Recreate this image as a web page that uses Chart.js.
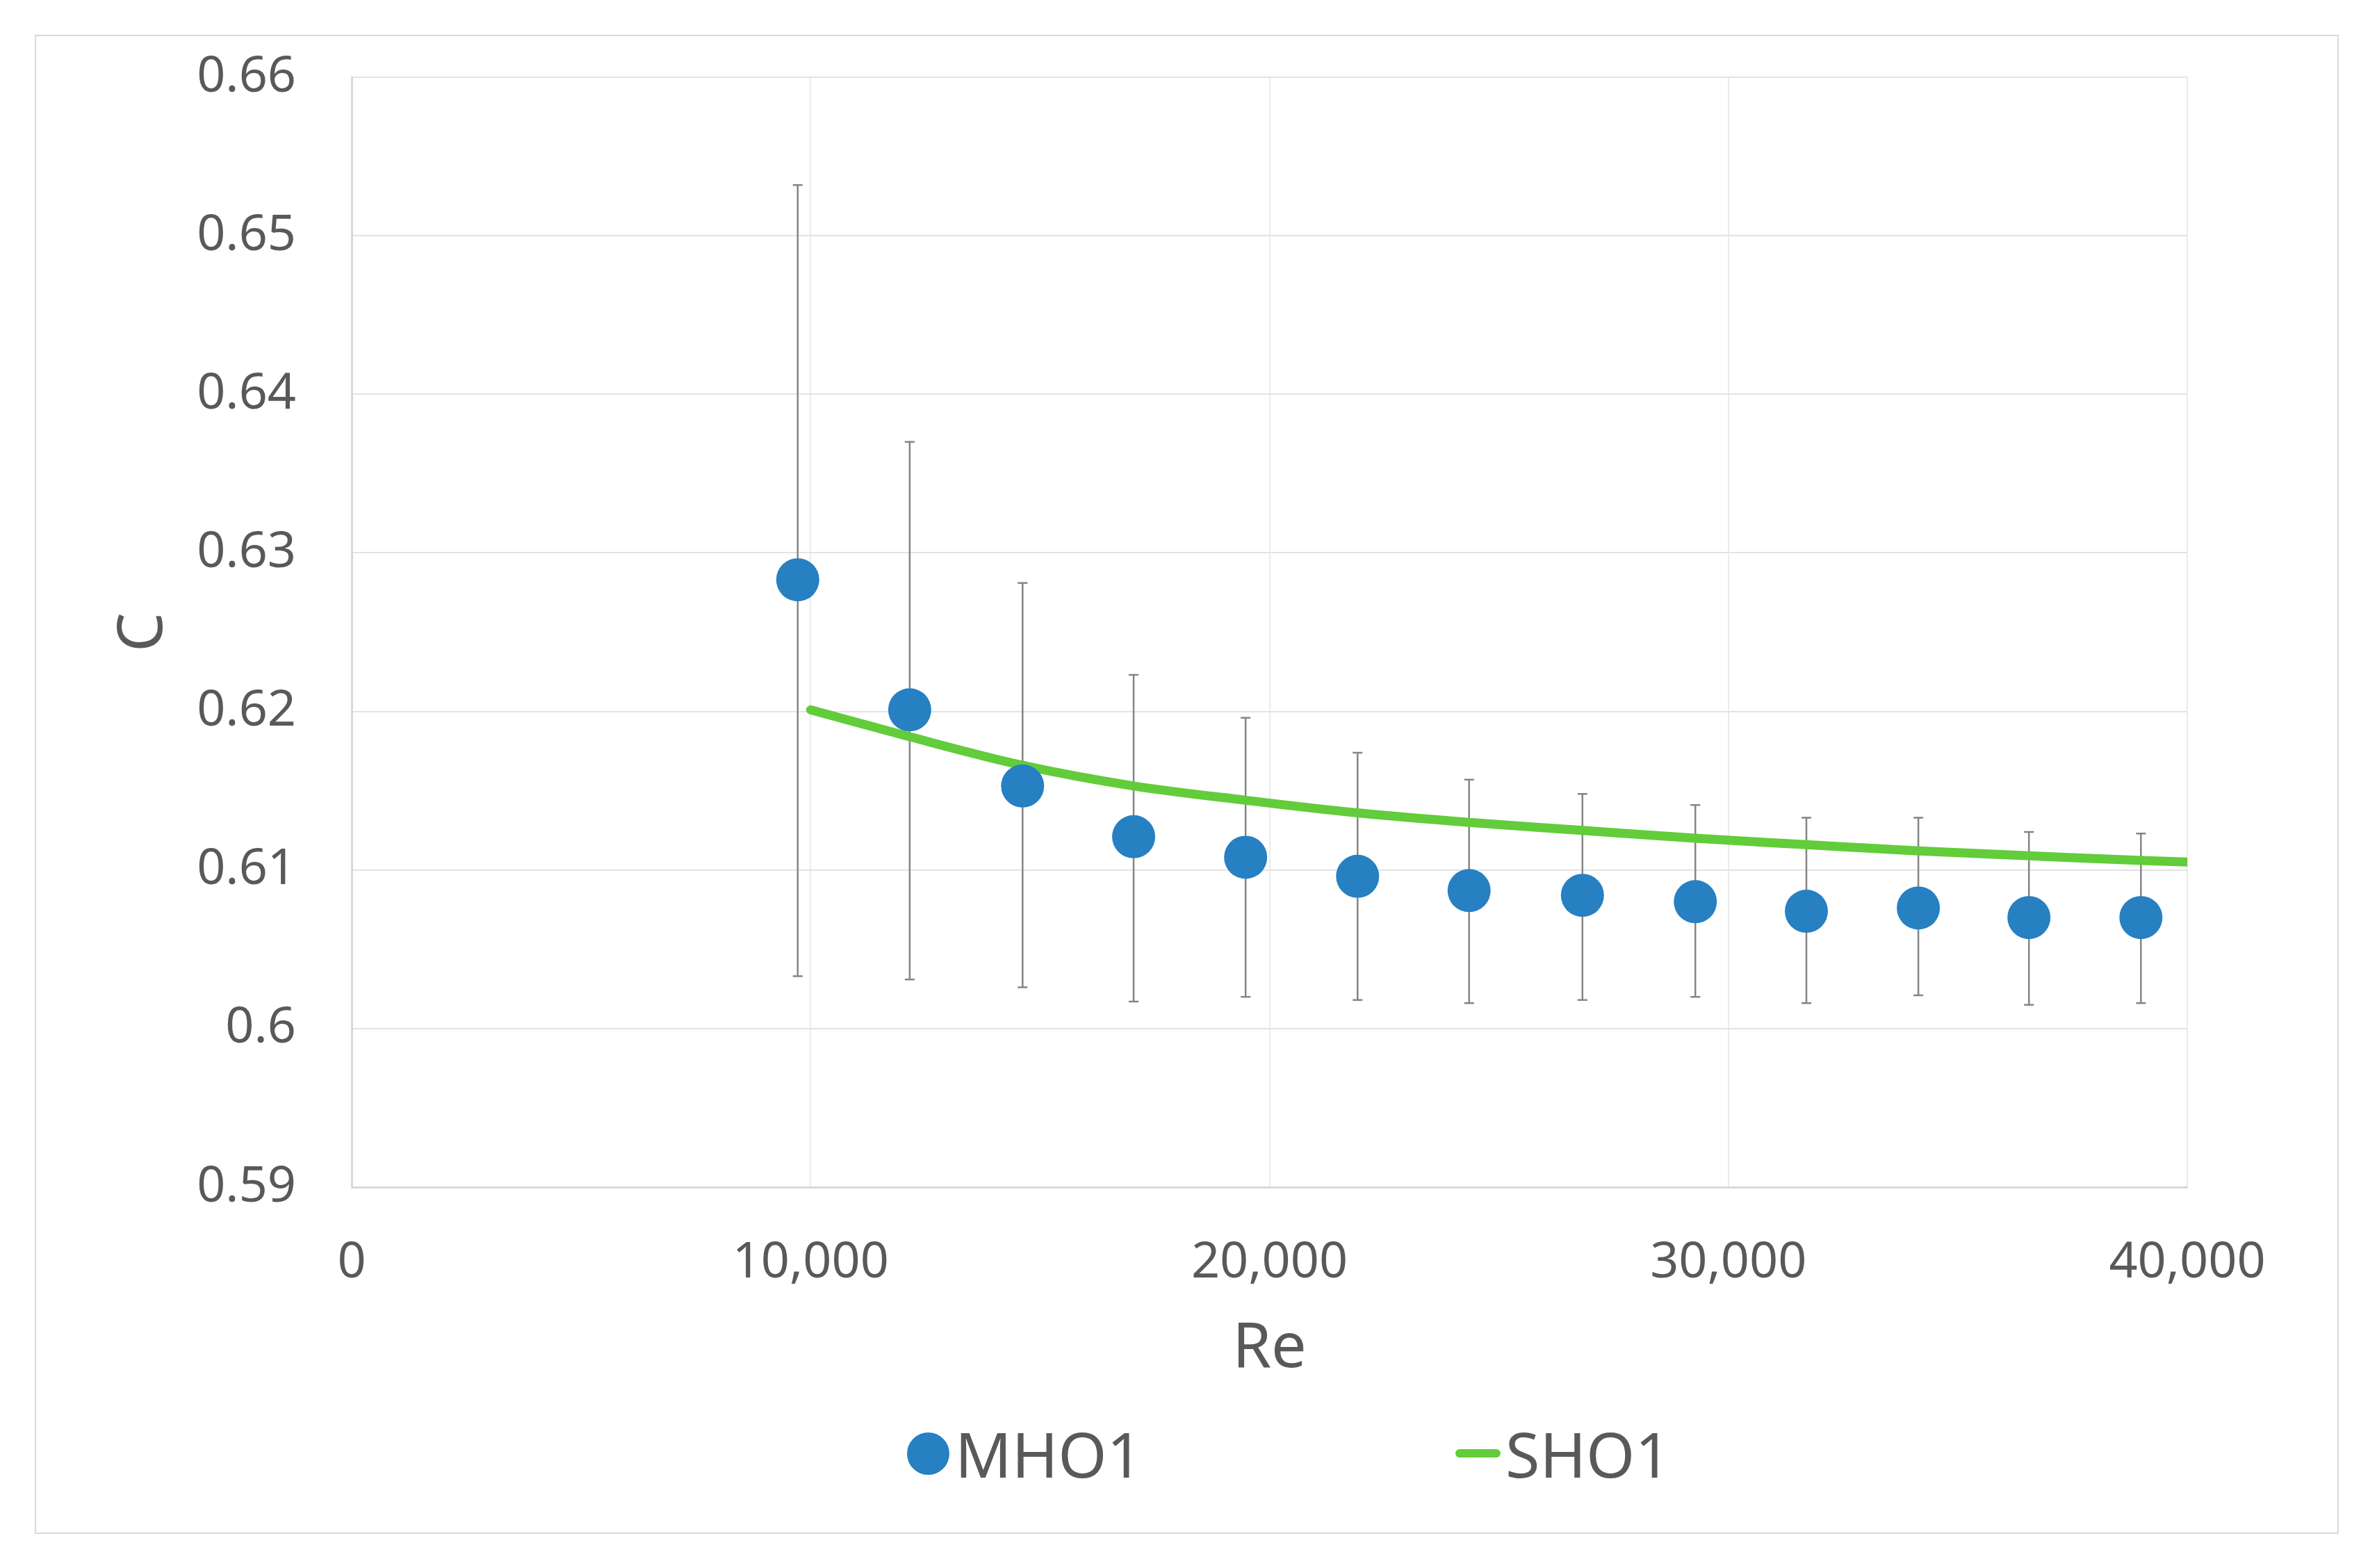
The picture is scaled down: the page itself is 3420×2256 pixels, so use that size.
<!DOCTYPE html>
<html>
<head>
<meta charset="utf-8">
<script src="https://cdn.jsdelivr.net/npm/chart.js@4.4.1/dist/chart.umd.min.js"></script>
<style>
    body { margin: 0; background: #fff; }
    #frame {
        position: absolute; left: 50px; top: 50px;
        width: 3311px; height: 2153px;
        border: 2px solid #d9d9d9;
        font-family: "Noto Sans", sans-serif;
        color: #595959;
    }
    #wrap { position: absolute; left: 0; top: 0; width: 3311px; height: 1990px; }
    .legendItem {
        position: absolute; top: 1994px; height: 90px;
        display: flex; align-items: center;
        font-size: 90px; line-height: 90px;
    }
    .dot { width: 61px; height: 61px; border-radius: 50%; margin-right: 8px; }
    .dash { width: 65px; height: 12px; border-radius: 6px; margin-right: 7px; }
</style>
</head>
<body>
<div id="frame">
    <div id="wrap"><canvas id="chart"></canvas></div>
    <div id="legend"></div>
</div>
<script>
// mesures (MHO1) avec barres d'erreur
const reValues = [9720, 12160, 14620, 17040, 19480, 21920, 24350, 26820, 29280, 31700, 34140, 36550, 38990];
const cMeasured = [0.6283, 0.6201, 0.6153, 0.6121, 0.6108, 0.6096, 0.6087, 0.6084, 0.6080, 0.6074, 0.6076, 0.6070, 0.6070];
const errHigh = [0.6532, 0.6370, 0.6281, 0.6223, 0.6196, 0.6174, 0.6157, 0.6148, 0.6141, 0.6133, 0.6133, 0.6124, 0.6123];
const errLow = [0.6033, 0.6031, 0.6026, 0.6017, 0.6020, 0.6018, 0.6016, 0.6018, 0.6020, 0.6016, 0.6021, 0.6015, 0.6016];

// courbe SHO1
const reModel = [10000, 12160, 14620, 17040, 19480, 21920, 24350, 26820, 29280, 31700, 34140, 36550, 38990, 40000];
const cModel = [0.6201, 0.6184, 0.6166, 0.6153, 0.6144, 0.6136, 0.6130, 0.6125, 0.6120, 0.6116, 0.6112, 0.6109, 0.6106, 0.6105];

const xTicks = [0, 10000, 20000, 30000, 40000];
const xTickLabels = ["0", "10,000", "20,000", "30,000", "40,000"];
const yTicks = [0.59, 0.60, 0.61, 0.62, 0.63, 0.64, 0.65, 0.66];
const yTickLabels = ["0.59", "0.6", "0.61", "0.62", "0.63", "0.64", "0.65", "0.66"];

const blue = "#2680c2";
const green = "#62cc3a";
const grey = "#595959";

const errorBars = {
    id: "errorBars",
    beforeDatasetsDraw(chart) {
        const ctx = chart.ctx;
        const x = chart.scales.x;
        const y = chart.scales.y;
        ctx.save();
        ctx.strokeStyle = "#858585";
        ctx.lineWidth = 2.5;
        for (let i = 0; i < reValues.length; i++) {
            const px = x.getPixelForValue(reValues[i]);
            const top = y.getPixelForValue(errHigh[i]);
            const bot = y.getPixelForValue(errLow[i]);
            ctx.beginPath();
            ctx.moveTo(px, top);
            ctx.lineTo(px, bot);
            ctx.moveTo(px - 7, top);
            ctx.lineTo(px + 7, top);
            ctx.moveTo(px - 7, bot);
            ctx.lineTo(px + 7, bot);
            ctx.stroke();
        }
        ctx.restore();
    }
};

const chart = new Chart(document.getElementById("chart"), {
    type: "scatter",
    data: {
        datasets: [
            {
                label: "MHO1",
                data: reValues.map((re, i) => ({ x: re, y: cMeasured[i] })),
                backgroundColor: blue,
                borderWidth: 0,
                pointRadius: 31,
                pointHoverRadius: 31
            },
            {
                label: "SHO1",
                data: reModel.map((re, i) => ({ x: re, y: cModel[i] })),
                showLine: true,
                borderColor: green,
                backgroundColor: green,
                borderWidth: 13,
                borderCapStyle: "round",
                pointRadius: 0,
                cubicInterpolationMode: "monotone"
            }
        ]
    },
    options: {
        responsive: true,
        maintainAspectRatio: false,
        animation: false,
        layout: { padding: { top: 59, right: 216, left: 0, bottom: 0 } },
        plugins: {
            legend: { display: false },
            tooltip: { enabled: false }
        },
        scales: {
            x: {
                type: "linear",
                min: 0,
                max: 40000,
                afterBuildTicks: s => { s.ticks = xTicks.map(v => ({ value: v })); },
                afterFit: s => { s.height = 334; },
                grid: { color: "#ebebeb", lineWidth: 2, drawTicks: false },
                border: { color: "#d9d9d9", width: 3 },
                ticks: {
                    padding: 66,
                    maxRotation: 0,
                    color: grey,
                    font: { family: "Noto Sans", size: 72 },
                    callback: (v, i) => xTickLabels[i]
                },
                title: {
                    display: true,
                    text: "Re",
                    color: grey,
                    font: { family: "Noto Sans", size: 90 },
                    padding: { bottom: 47 }
                }
            },
            y: {
                min: 0.59,
                max: 0.66,
                afterBuildTicks: s => { s.ticks = yTicks.map(v => ({ value: v })); },
                afterFit: s => { s.width = 454; },
                // invisible tick marks give the gap without padding the top
                grid: { color: "#e3e3e3", lineWidth: 2, drawTicks: true, tickLength: 66, tickColor: "rgba(0,0,0,0)" },
                border: { color: "#d9d9d9", width: 3 },
                ticks: {
                    padding: 14,
                    color: grey,
                    font: { family: "Noto Sans", size: 72 },
                    callback: (v, i) => yTickLabels[i]
                },
                title: {
                    display: true,
                    text: "C",
                    color: grey,
                    font: { family: "Noto Sans", size: 90 },
                    padding: { top: 101 }
                }
            }
        }
    },
    plugins: [errorBars]
});

// légende faite à la main (espacement comme dans Excel)
const legend = document.getElementById("legend");
const legendLeft = [1253, 2042];
chart.data.datasets.forEach((ds, i) => {
    const item = document.createElement("div");
    item.className = "legendItem";
    item.style.left = legendLeft[i] + "px";
    const mark = document.createElement("span");
    mark.className = ds.showLine ? "dash" : "dot";
    mark.style.background = ds.showLine ? ds.borderColor : ds.backgroundColor;
    item.appendChild(mark);
    item.appendChild(document.createTextNode(ds.label));
    legend.appendChild(item);
});
</script>
</body>
</html>
